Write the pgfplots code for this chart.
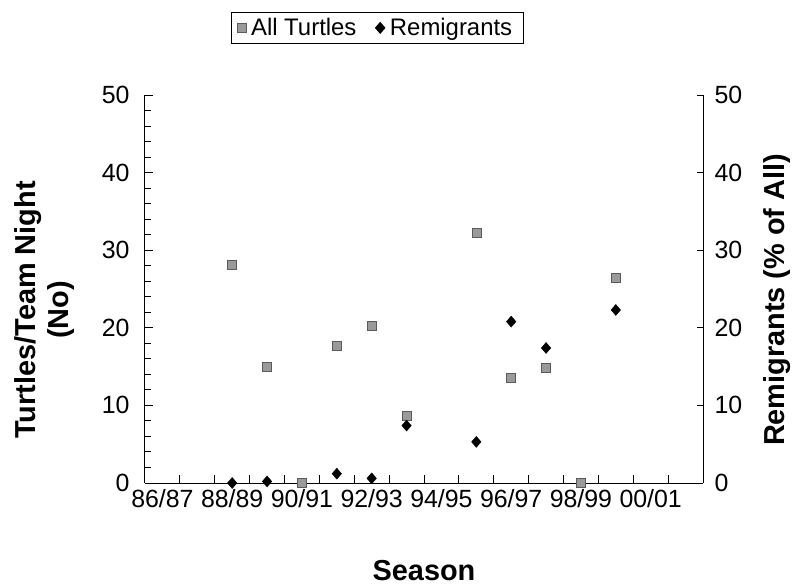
\documentclass[border=0pt]{standalone}
\usepackage{pgfplots}
\pgfplotsset{compat=1.18}
\usepackage{fontspec}
\setmainfont{Liberation Sans}

\definecolor{sqfill}{HTML}{9A9A9A}
\definecolor{sqdraw}{HTML}{5A5A5A}

\begin{document}
\begin{tikzpicture}
\path[use as bounding box] (-145bp,-103bp) rectangle (650bp,483bp);
\begin{axis}[
  at={(0,0)}, anchor=south west,
  scale only axis, width=558bp, height=388bp,
  xmin=0, xmax=16, ymin=0, ymax=50,
  axis x line*=bottom, axis y line*=left,
  xtick={1,...,15}, xticklabels={},
  extra x ticks={0.5,2.5,...,14.5},
  extra x tick labels={86/87,88/89,90/91,92/93,94/95,96/97,98/99,00/01},
  extra x tick style={major tick length=0pt, tick label style={yshift=-3bp}},
  ytick={0,10,...,50}, minor ytick={2,4,6,8,12,14,16,18,22,24,26,28,32,34,36,38,42,44,46,48},
  xtick align=inside, ytick align=inside,
  major tick length=8bp, minor tick length=6bp,
  xtick style={black, line width=1pt},
  ytick style={black, line width=1pt},
  minor tick style={black, line width=1pt},
  axis line style={line width=1pt},
  ticklabel style={font=\fontsize{25}{28}\selectfont},
  y tick label style={xshift=-12bp},
  /pgf/number format/assume math mode=true,
  xlabel={\textbf{Season}},
  xlabel style={at={(axis description cs:0.5,-0.225)}, anchor=center, font=\fontsize{29}{32}\selectfont},
  ylabel={\textbf{Turtles/Team Night}\\\textbf{(No)}},
  ylabel style={at={(axis description cs:-0.18,0.446)}, anchor=center, rotate=0, align=center, font=\fontsize{29}{34}\selectfont},
  legend style={at={(axis description cs:0.416,1.173)}, anchor=center, draw=black, line width=0.8pt,
    font=\fontsize{24}{27}\selectfont, inner xsep=6bp, inner ysep=4bp,
    nodes={inner xsep=5bp},
    /tikz/every even column/.append style={column sep=14bp}},
  legend columns=2,
  legend cell align=left,
]
\addplot[only marks, mark=square*, mark size=4.5bp, mark options={fill=sqfill, draw=sqdraw, line width=0.6pt}]
  coordinates {(2.5,28.1) (3.5,15.0) (4.5,0) (5.5,17.7) (6.5,20.3) (7.5,8.7) (9.5,32.2) (10.5,13.6) (11.5,14.8) (12.5,0) (13.5,26.4)};
\addlegendentry{All Turtles}
\addplot[only marks, mark=diamond*, mark size=5.5bp, mark options={fill=black, draw=black, xscale=1.15}]
  coordinates {(2.5,0) (3.5,0.2) (5.5,1.2) (6.5,0.6) (7.5,7.4) (9.5,5.3) (10.5,20.8) (11.5,17.4) (13.5,22.3)};
\addlegendentry{Remigrants}
\end{axis}
\begin{axis}[
  at={(0,0)}, anchor=south west,
  scale only axis, width=558bp, height=388bp,
  xmin=0, xmax=16, ymin=0, ymax=50,
  axis x line=none, axis y line*=right,
  ytick={0,10,...,50},
  ytick align=inside, major tick length=6bp,
  ytick style={black, line width=1pt},
  axis line style={line width=1pt},
  ticklabel style={font=\fontsize{25}{28}\selectfont},
  y tick label style={xshift=8bp},
  /pgf/number format/assume math mode=true,
  ylabel={\textbf{Remigrants (\% of All)}},
  ylabel style={at={(axis description cs:1.132,0.472)}, anchor=center, rotate=0, font=\fontsize{29}{32}\selectfont},
]
\end{axis}
\end{tikzpicture}
\end{document}
